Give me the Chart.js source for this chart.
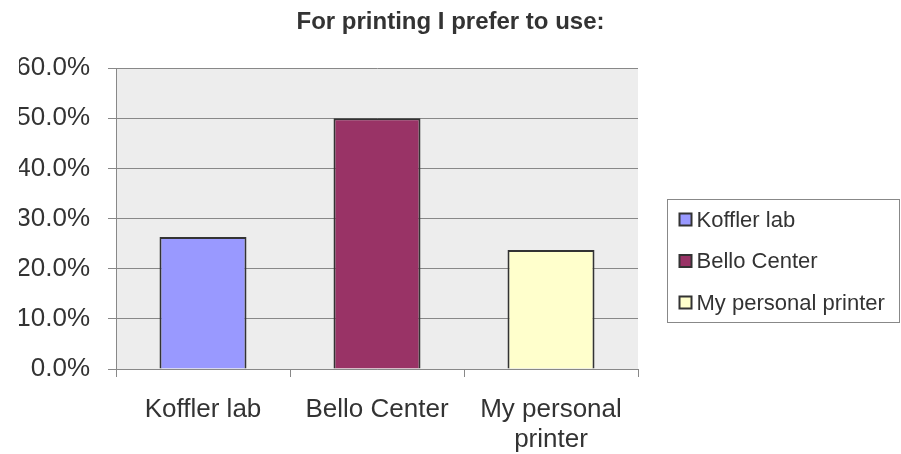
<!DOCTYPE html>
<html>
<head>
<meta charset="utf-8">
<script src="https://cdn.jsdelivr.net/npm/chart.js@4.4.0/dist/chart.umd.min.js"></script>
<style>
    html, body { margin: 0; padding: 0; background: #fff; }
    #wrap { width: 901px; height: 454px; }
</style>
</head>
<body>
<div id="wrap"><canvas id="printChart"></canvas></div>
<script>
// Dados do gráfico
const titulo = 'For printing I prefer to use:';
const categorias = [['Koffler lab'], ['Bello Center'], ['My personal', 'printer']];
const nomesLegenda = ['Koffler lab', 'Bello Center', 'My personal printer'];
const valores = [26.3, 50.0, 23.7];
const cores = ['#9999FF', '#993366', '#FFFFCC'];
const ticksY = [0, 10, 20, 30, 40, 50, 60];

const corTexto = '#333333';
const corGrade = '#888888';
const fonte = '"Liberation Sans", Arial, sans-serif';

// Fundo cinza da área do gráfico
const fundoPlugin = {
    id: 'fundo',
    beforeDraw(chart) {
        const { ctx, chartArea: a } = chart;
        ctx.save();
        ctx.fillStyle = '#EDEDED';
        ctx.fillRect(a.left, a.top, a.right - a.left, a.bottom - a.top);
        ctx.restore();
    }
};

// Título centrado na largura toda + legenda com borda à direita
const textoPlugin = {
    id: 'textos',
    afterDraw(chart) {
        const { ctx, chartArea: a } = chart;
        ctx.save();
        ctx.fillStyle = corTexto;
        ctx.font = 'bold 24px ' + fonte;
        ctx.textAlign = 'center';
        ctx.textBaseline = 'alphabetic';
        ctx.fillText(titulo, chart.width / 2, 29);

        const x = a.right + 29.5;
        const y = 199.5;
        const w = 232;
        const h = 123;
        ctx.strokeStyle = corGrade;
        ctx.lineWidth = 1;
        ctx.strokeRect(x, y, w, h);
        ctx.font = '22px ' + fonte;
        ctx.textAlign = 'left';
        ctx.textBaseline = 'middle';
        nomesLegenda.forEach((nome, i) => {
            const cy = y + 20 + i * 41.5;
            ctx.fillStyle = cores[i];
            ctx.fillRect(x + 12, cy - 6, 12, 12);
            ctx.strokeStyle = corTexto;
            ctx.lineWidth = 2;
            ctx.strokeRect(x + 12, cy - 6, 12, 12);
            ctx.fillStyle = corTexto;
            ctx.fillText(nome, x + 29, cy + 1);
        });
        ctx.restore();
    }
};

const ctx = document.getElementById('printChart').getContext('2d');
new Chart(ctx, {
    type: 'bar',
    data: {
        labels: categorias,
        datasets: [{
            label: titulo,
            data: valores,
            backgroundColor: cores,
            borderColor: corTexto,
            borderWidth: 2,
            barPercentage: 1,
            categoryPercentage: 0.5
        }]
    },
    options: {
        responsive: true,
        maintainAspectRatio: false,
        animation: false,
        layout: { padding: { left: 19, right: 263, top: 68, bottom: 2 } },
        plugins: {
            legend: { display: false },
            tooltip: { enabled: false },
            title: { display: false }
        },
        scales: {
            y: {
                min: 0,
                max: 60,
                afterBuildTicks: axis => { axis.ticks = ticksY.map(v => ({ value: v })); },
                afterFit: scale => { scale.width = 97; },
                ticks: {
                    color: corTexto,
                    font: { family: fonte, size: 26 },
                    padding: 18,
                    callback: value => value.toFixed(1) + '%'
                },
                grid: { color: corGrade, lineWidth: 1, tickLength: 8 },
                border: { color: corGrade, width: 1 }
            },
            x: {
                afterFit: scale => { scale.height = 83; },
                ticks: {
                    color: corTexto,
                    font: { family: fonte, size: 26, lineHeight: 1.15 },
                    padding: 18,
                    maxRotation: 0
                },
                grid: { offset: true, drawOnChartArea: false, color: corGrade, tickLength: 8 },
                border: { color: corGrade, width: 1 }
            }
        }
    },
    plugins: [fundoPlugin, textoPlugin]
});
</script>
</body>
</html>
